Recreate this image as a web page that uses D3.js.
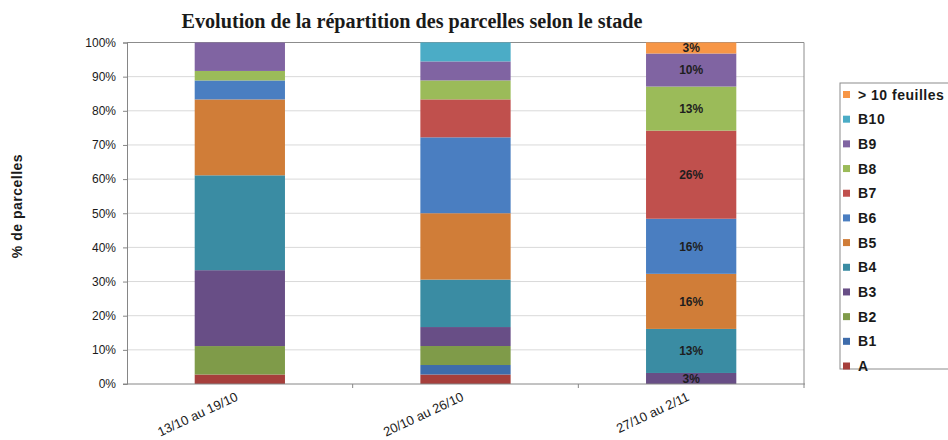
<!DOCTYPE html>
<html><head><meta charset="utf-8">
<script src="https://cdn.jsdelivr.net/npm/d3@7/dist/d3.min.js"></script>
<style>body{margin:0;background:#fff}svg{display:block}</style>
</head><body><svg id="c" width="948" height="440"></svg>
<script>
const categories = ["13/10 au 19/10", "20/10 au 26/10", "27/10 au 2/11"];
const stages = ["A", "B1", "B2", "B3", "B4", "B5", "B6", "B7", "B8", "B9", "B10", "> 10 feuilles"];
const colors = ["#A63F3C", "#3E6CAB", "#7F9B49", "#684E86", "#3A8CA3", "#D07D38", "#4A7EC1", "#C0504D", "#9BBB59", "#8064A2", "#4BACC6", "#F79646"];
// % of parcels per stage, for each week (order: stages)
const week1 = [2.78, 0, 8.33, 22.22, 27.78, 22.22, 5.56, 0, 2.78, 8.33, 0, 0];
const week2 = [2.78, 2.78, 5.56, 5.56, 13.89, 19.44, 22.22, 11.11, 5.56, 5.56, 5.56, 0];
const week3 = [0, 0, 0, 3.23, 12.90, 16.13, 16.13, 25.81, 12.90, 9.68, 0, 3.23];
const labelledWeeks = [false, false, true];
const yTicks = [0, 10, 20, 30, 40, 50, 60, 70, 80, 90, 100];
const title = "Evolution de la répartition des parcelles selon le stade";
const yTitle = "% de parcelles";

const series = [week1, week2, week3];
const rows = categories.map((c, i) => {
  const r = {cat: c, idx: i};
  stages.forEach((s, j) => r[s] = series[i][j]);
  return r;
});

const svg = d3.select("#c");
const L = 127, R = 804, T = 42.5, B = 384;
const x = d3.scaleBand().domain(categories).range([L, R]).paddingInner(0.6).paddingOuter(0.3);
const y = d3.scaleLinear().domain([0, 100]).range([B, T]);
const color = d3.scaleOrdinal().domain(stages).range(colors);

// gridlines
svg.append("g").selectAll("line").data(yTicks.filter(d => d > 0)).join("line")
  .attr("x1", L).attr("x2", R).attr("y1", d => y(d)).attr("y2", d => y(d))
  .attr("stroke", "#d9d9d9").attr("stroke-width", 1);
// plot border top/right
svg.append("path").attr("d", `M${L},${T}H${R}V${B}`).attr("fill", "none").attr("stroke", "#8c8c8c").attr("stroke-width", 1);

const stack = d3.stack().keys(stages)(rows);
svg.append("g").selectAll("g").data(stack).join("g")
  .attr("fill", d => color(d.key))
  .selectAll("rect").data(d => d).join("rect")
  .attr("x", d => x(d.data.cat)).attr("width", x.bandwidth())
  .attr("y", d => y(d[1])).attr("height", d => Math.max(0, y(d[0]) - y(d[1])));

// data labels
const lab = svg.append("g").attr("font-family", "Arial, 'Liberation Sans', sans-serif")
  .attr("font-weight", "bold").attr("font-size", 12).attr("fill", "#1e1e1e").attr("text-anchor", "middle");
stack.forEach(s => s.forEach(d => {
  if (!labelledWeeks[d.data.idx]) return;
  const v = d[1] - d[0];
  if (v <= 0) return;
  lab.append("text").attr("x", x(d.data.cat) + x.bandwidth() / 2)
    .attr("y", (y(d[0]) + y(d[1])) / 2).attr("dy", "0.36em").text(Math.round(v) + "%");
}));

// y axis
const ya = svg.append("g").attr("transform", `translate(${L},0)`)
  .call(d3.axisLeft(y).tickValues(yTicks).tickFormat(d => d + "%").tickSize(4).tickPadding(7));
ya.select(".domain").attr("stroke", "#868686");
ya.selectAll(".tick line").attr("stroke", "#868686");
ya.selectAll("text").attr("font-family", "Arial, 'Liberation Sans', sans-serif").attr("font-size", 12).attr("fill", "#1a1a1a");

// x axis
const xa = svg.append("g").attr("transform", `translate(0,${B})`);
xa.append("line").attr("x1", L - 4).attr("x2", R + 1).attr("y1", 0).attr("y2", 0).attr("stroke", "#868686");
const bounds = categories.slice(1).map(c => x(c) - x.step() * x.paddingInner() / 2).concat([R]);
xa.selectAll("line.t").data(bounds).join("line").attr("class", "t")
  .attr("x1", d => d).attr("x2", d => d).attr("y1", 0).attr("y2", 4).attr("stroke", "#868686");
xa.selectAll("text").data(categories).join("text")
  .attr("transform", d => `translate(${x(d) + x.bandwidth() / 2 - 1},${16}) rotate(-25)`)
  .attr("text-anchor", "end").attr("font-family", "Arial, 'Liberation Sans', sans-serif")
  .attr("font-size", 13).attr("fill", "#1a1a1a").text(d => d);

// title
svg.append("text").attr("x", 412).attr("y", 28).attr("text-anchor", "middle")
  .attr("font-family", "'Liberation Serif', 'DejaVu Serif', serif").attr("font-weight", "bold")
  .attr("font-size", 20).attr("fill", "#1a1a1a")
  .attr("textLength", 461).attr("lengthAdjust", "spacingAndGlyphs").text(title);

// y title
svg.append("text").attr("transform", "translate(22,206) rotate(-90)").attr("text-anchor", "middle")
  .attr("font-family", "Arial, 'Liberation Sans', sans-serif").attr("font-weight", "bold")
  .attr("font-size", 14).attr("letter-spacing", "0.5px").attr("fill", "#1a1a1a").text(yTitle);

// legend
const lg = svg.append("g");
lg.append("rect").attr("x", 840).attr("y", 83).attr("width", 120).attr("height", 286)
  .attr("fill", "#fff").attr("stroke", "#8c8c8c");
const legendItems = stages.slice().reverse();
const ly = d3.scalePoint().domain(legendItems).range([94.5, 366]);
const li = lg.selectAll("g.i").data(legendItems).join("g").attr("class", "i")
  .attr("transform", d => `translate(0,${ly(d)})`);
li.append("rect").attr("x", 843).attr("y", -3.5).attr("width", 7).attr("height", 7).attr("fill", d => color(d));
li.append("text").attr("x", 858).attr("dy", "0.36em").attr("font-family", "Arial, 'Liberation Sans', sans-serif")
  .attr("font-weight", "bold").attr("font-size", 14).attr("letter-spacing", "0.5px").attr("fill", "#1a1a1a").text(d => d);
</script></body></html>
